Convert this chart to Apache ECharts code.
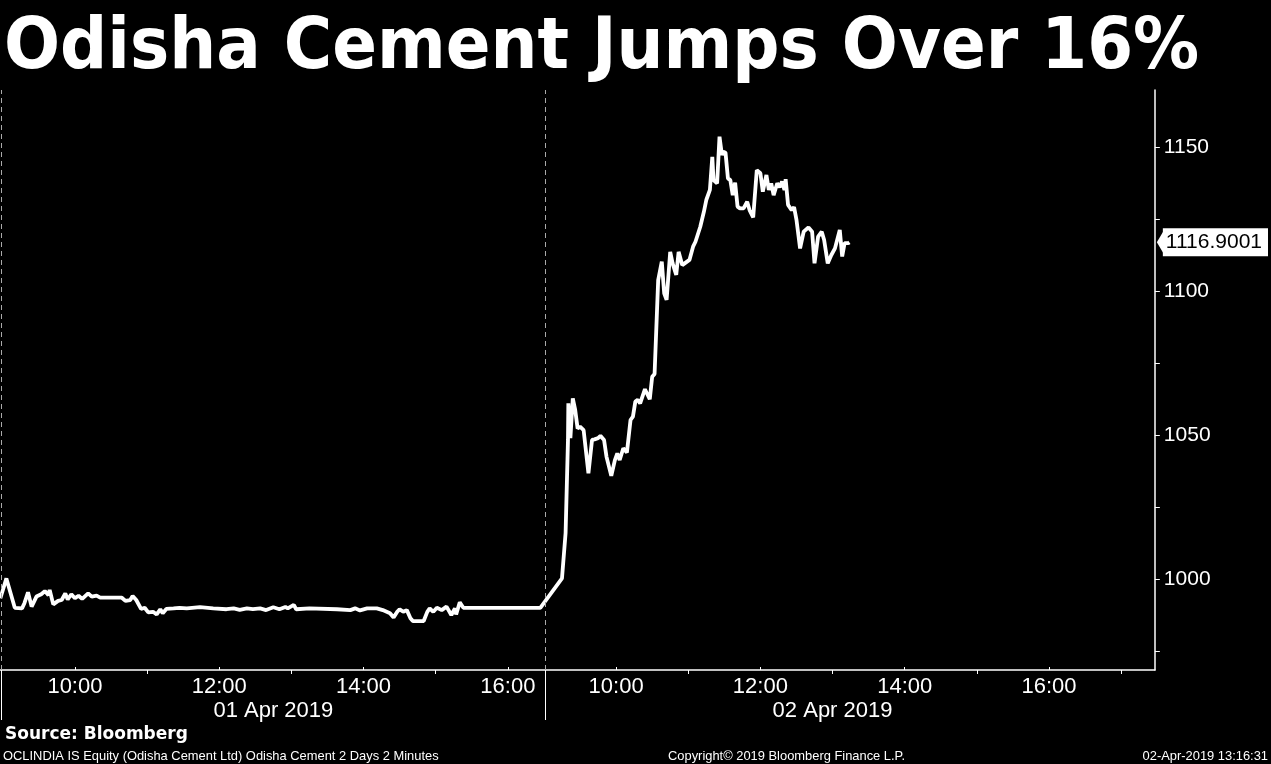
<!DOCTYPE html>
<html>
<head>
<meta charset="utf-8">
<script src="https://cdn.jsdelivr.net/npm/echarts@6/dist/echarts.min.js"></script>
<style>
html,body{margin:0;padding:0;background:#000;}
#chart{width:1271px;height:764px;}
</style>
</head>
<body>
<div id="chart"></div>
<script>
// ---- data (minutes after 09:00 of each session, price) ----
const sessionLength = 450; // minutes shown per day before next session starts (09:00-16:30)
const day1Minutes = [-2,3,10,16,18,21,24,28,32,35,38,39,42,46,49,52,54,57,60,63,66,71,74,78,81,92,99,102,106,108,111,115,118,121,125,128,131,133,136,142,147,153,164,175,186,192,197,203,208,214,219,225,230,235,237,242,244,255,278,289,293,297,303,311,316,322,325,328,330,333,336,339,341,350,353,355,358,361,365,369,373,376,377,380,383,447];
const day1Prices = [993.3,1000.2,990.0,989.8,991.6,995.4,990.4,993.9,994.7,995.8,994.4,996.2,991.2,992.4,992.7,995.0,992.9,994.7,993.3,994.2,993.1,995.0,993.9,994.2,993.5,993.5,993.5,992.4,992.7,994.1,992.7,989.6,990.0,988.4,988.6,987.7,989.5,988.1,989.6,989.8,990.0,989.8,990.2,989.8,989.5,989.8,989.3,989.8,989.5,989.8,989.2,990.2,989.5,990.3,989.8,991.0,989.5,989.8,989.5,989.2,989.8,989.1,989.8,989.8,989.2,988.1,986.6,988.6,989.5,988.6,989.2,986.4,985.4,985.4,988.6,989.8,988.6,990.0,989.2,990.4,987.5,989.8,987.7,991.9,990.0,990.0];
const day2Minutes = [15,18,20,20.3,22,24,26,28,30,33,37,40,42,45,47,50,52,56,59,61,63,66,69,72,74,76,78,80,84,88,90,92,95,98,100,102,105,107,110,112,115,119,121,124,126,130,133,135,138,140,141,144,146,148,149,151,153,155,157,159,161,163,166,169,171,174,177,180,182,185,187,189,191,194,196,198,200,201,203,206,208,210,213,216,220,223,225,228,231,233,236,239,242,246,248,250,253,254];
const day2Prices = [1000.2,1015.9,1048.3,1061.0,1048.9,1062.7,1058.7,1052.3,1052.9,1051.7,1036.7,1048.3,1048.5,1048.9,1049.7,1048.3,1042.5,1035.8,1041.3,1043.6,1041.3,1045.4,1043.9,1055.2,1056.4,1061.6,1062.2,1061.0,1065.9,1062.4,1070.2,1071.2,1103.8,1110.2,1099.2,1096.9,1113.6,1109.6,1105.6,1113.6,1109.0,1110.2,1110.8,1115.4,1117.1,1122.3,1127.5,1131.6,1135.1,1146.6,1138.5,1137.4,1153.6,1147.2,1148.4,1148.0,1139.1,1138.5,1133.3,1137.6,1129.3,1128.7,1128.7,1131.0,1128.1,1125.6,1142.0,1140.9,1134.5,1140.3,1135.1,1137.4,1133.3,1137.4,1136.0,1138.0,1135.1,1138.8,1129.9,1128.1,1129.1,1124.7,1114.8,1120.6,1122.1,1120.6,1109.6,1118.9,1120.6,1117.7,1109.6,1112.5,1114.8,1121.2,1112.0,1116.6,1116.6,1116.9001];
const lastPrice = 1116.9001;

// ---- axis labels ----
const hourLabels = ['10:00','12:00','14:00','16:00'];
const hourLabelMinutes = [60,180,300,420];
const oddHourMinutes = [120,240,360];
const day2OddHourMinutes = [120,240,360,480];
const dateLabels = ['01 Apr 2019','02 Apr 2019'];
const priceLabels = [1000,1050,1100,1150];
const priceTicks = [975,1000,1025,1050,1075,1100,1125,1150];

const titleText = 'Odisha Cement Jumps Over 16%';
const sourceText = 'Source: Bloomberg';
const footerLeft = 'OCLINDIA IS Equity (Odisha Cement Ltd) Odisha Cement 2 Days 2 Minutes';
const footerMid = 'Copyright\u00A9 2019 Bloomberg Finance L.P.';
const footerRight = '02-Apr-2019 13:16:31';

// ---- build ----
const xMin = -2.3, xMax = 958;
const yMin = 968.4, yMax = 1169.8;
const data = [];
day1Minutes.forEach((m,i)=>data.push([m, day1Prices[i]]));
day2Minutes.forEach((m,i)=>data.push([m + sessionLength, day2Prices[i]]));

const evenTicks = hourLabelMinutes.concat(hourLabelMinutes.map(m=>m+sessionLength));
const oddTicks = oddHourMinutes.concat(day2OddHourMinutes.map(m=>m+sessionLength));
const dayCenters = [sessionLength/2, sessionLength + 240];
const dividerValue = sessionLength + 1;

function clockLabel(v){
  const idx = evenTicks.findIndex(t=>Math.abs(t-v)<0.01);
  return idx >= 0 ? hourLabels[idx % hourLabels.length] : '';
}

const labelFont = 'Liberation Sans';
const footFont = '12.9px "Liberation Sans"';
const chart = echarts.init(document.getElementById('chart'));
chart.setOption({
  backgroundColor:'#000',
  animation:false,
  grid:{left:0, right:116, top:90, bottom:94, containLabel:false},
  xAxis:[
    {type:'value', min:xMin, max:xMax, position:'bottom',
     axisLine:{show:true, onZero:false, lineStyle:{color:'#fff', width:1.5}},
     axisTick:{show:true, customValues:evenTicks, inside:true, length:3, lineStyle:{color:'#fff'}},
     axisLabel:{show:true, customValues:evenTicks, formatter:clockLabel, color:'#fff', fontSize:22, fontFamily:labelFont, margin:6},
     splitLine:{show:false}},
    {type:'value', min:xMin, max:xMax, position:'bottom',
     axisLine:{show:false, onZero:false},
     axisTick:{show:true, customValues:oddTicks, inside:false, length:4, lineStyle:{color:'#fff'}},
     axisLabel:{show:false}, splitLine:{show:false}},
    {type:'value', min:xMin, max:xMax, position:'bottom',
     axisLine:{show:false, onZero:false},
     axisTick:{show:true, customValues:[-1.5, dividerValue], inside:false, length:50, lineStyle:{color:'#fff', width:1}},
     axisLabel:{show:true, customValues:dayCenters, formatter:(v)=>{const i=dayCenters.findIndex(c=>Math.abs(c-v)<0.01);return i>=0?dateLabels[i]:'';}, color:'#fff', fontSize:22, fontFamily:labelFont, margin:30},
     splitLine:{show:false}}
  ],
  yAxis:[
    {type:'value', min:yMin, max:yMax, position:'right',
     axisLine:{show:true, onZero:false, lineStyle:{color:'#fff', width:1.5}},
     axisTick:{show:true, customValues:priceTicks, inside:false, length:5, lineStyle:{color:'#fff'}},
     axisLabel:{show:true, customValues:priceLabels, formatter:(v)=>String(v), color:'#fff', fontSize:21, fontFamily:labelFont, margin:9},
     splitLine:{show:false}},
    {type:'value', min:yMin, max:yMax, position:'right',
     axisLine:{show:false, onZero:false}, axisTick:{show:false},
     axisLabel:{show:true, customValues:[lastPrice], formatter:()=>String(lastPrice), color:'#000', backgroundColor:'#fff', padding:[4,6,3,3], fontSize:21, fontFamily:labelFont, margin:8},
     splitLine:{show:false}}
  ],
  series:[{
    type:'line', xAxisIndex:0, yAxisIndex:0, data:data, showSymbol:false,
    lineStyle:{color:'#fff', width:3.8}, itemStyle:{color:'#fff'},
    markLine:{silent:true, symbol:'none', label:{show:false},
      lineStyle:{color:'#aaa', type:[5,4], width:1},
      data:[{xAxis:-1.5},{xAxis:dividerValue}]},
    markPoint:{silent:true, symbol:'path://M0,13 L7,0 L7,26 Z', symbolSize:[8,27], symbolOffset:[6,0],
      itemStyle:{color:'#fff'}, label:{show:false},
      data:[{coord:[xMax, lastPrice]}]}
  }],
  graphic:[
    {type:'text', x:4, y:14, scaleY:1.08, style:{text:titleText, fill:'#fff', font:'bold 66px "DejaVu Sans"'}},
    {type:'text', left:5, top:726, style:{text:sourceText, fill:'#fff', font:'bold 17px "DejaVu Sans"'}},
    {type:'text', left:3, top:750, style:{text:footerLeft, fill:'#fff', font:footFont}},
    {type:'text', left:668, top:750, style:{text:footerMid, fill:'#fff', font:footFont}},
    {type:'text', right:3, top:750, style:{text:footerRight, fill:'#fff', font:footFont}}
  ]
});
</script>
</body>
</html>
